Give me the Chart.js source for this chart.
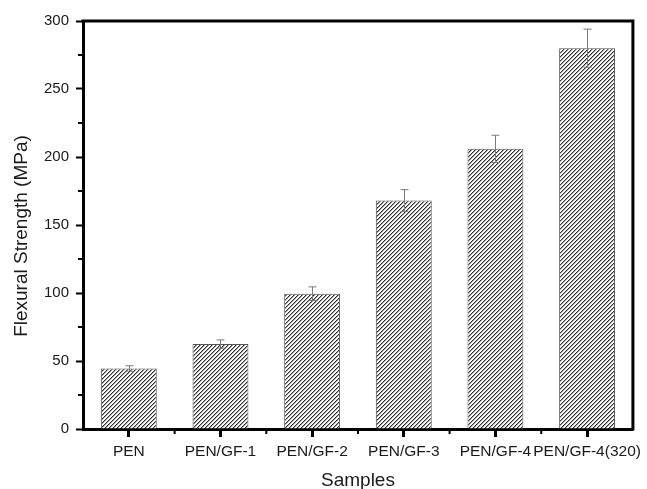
<!DOCTYPE html>
<html>
<head>
<meta charset="utf-8">
<script src="https://cdn.jsdelivr.net/npm/chart.js@4/dist/chart.umd.min.js"></script>
<style>
  html, body { margin: 0; padding: 0; background: #fff; }
  #wrap { width: 647px; height: 489px; position: relative; }
</style>
</head>
<body>
<div id="wrap"><canvas id="c" width="647" height="489"></canvas></div>
<script>
// Flexural strength of PEN and glass-fibre composites
const samples = ['PEN', 'PEN/GF-1', 'PEN/GF-2', 'PEN/GF-3', 'PEN/GF-4', 'PEN/GF-4(320)'];
const strength = [44.5, 62.5, 99.5, 168, 206, 280];
const strengthErr = [2, 3, 5, 8, 10, 14];
const yTicks = [0, 50, 100, 150, 200, 250, 300];
const yMinorTicks = [25, 75, 125, 175, 225, 275];
const yTitle = 'Flexural Strength (MPa)';
const xTitle = 'Samples';

const FONT = 'Liberation Sans, Arial, sans-serif';
const TEXT = '#1a1a1a';

// diagonal hatch fill
function makeHatch() {
  const s = 4;
  const t = document.createElement('canvas');
  t.width = s; t.height = s;
  const g = t.getContext('2d');
  const img = g.createImageData(s, s);
  for (let y = 0; y < s; y++) {
    for (let x = 0; x < s; x++) {
      const k = (x + y) % s;
      let v = 255;
      if (k === 0) v = 45;
      else if (k === 1) v = 160;
      const i = (y * s + x) * 4;
      img.data[i] = v; img.data[i + 1] = v; img.data[i + 2] = v; img.data[i + 3] = 255;
    }
  }
  g.putImageData(img, 0, 0);
  return g.createPattern(t, 'repeat');
}

const framePlugin = {
  id: 'frame',
  afterDatasetsDraw(chart) {
    const ctx = chart.ctx;
    const y = chart.scales.y;
    const meta = chart.getDatasetMeta(0);
    // error bars
    ctx.save();
    ctx.strokeStyle = '#7a7a7a';
    ctx.lineWidth = 1;
    meta.data.forEach((bar, i) => {
      const px = Math.round(bar.x) + 0.5;
      const yt = y.getPixelForValue(strength[i] + strengthErr[i]);
      const yb = y.getPixelForValue(strength[i] - strengthErr[i]);
      ctx.beginPath();
      ctx.moveTo(px, yt); ctx.lineTo(px, yb);
      ctx.moveTo(px - 4, yt); ctx.lineTo(px + 4, yt);
      ctx.moveTo(px - 4, yb); ctx.lineTo(px + 4, yb);
      ctx.stroke();
    });
    ctx.restore();
  },
  afterDraw(chart) {
    const ctx = chart.ctx;
    const a = chart.chartArea;
    const x = chart.scales.x, y = chart.scales.y;
    ctx.save();
    ctx.strokeStyle = '#000';
    ctx.lineWidth = 3;
    ctx.lineCap = 'square';
    ctx.beginPath();
    ctx.moveTo(a.left, a.top);
    ctx.lineTo(a.right, a.top);
    ctx.lineTo(a.right, a.bottom);
    ctx.stroke();
    // minor ticks
    ctx.lineWidth = 2;
    ctx.lineCap = 'butt';
    ctx.beginPath();
    yMinorTicks.forEach(v => {
      const py = y.getPixelForValue(v);
      ctx.moveTo(a.left, py); ctx.lineTo(a.left - 5, py);
    });
    for (let i = 0; i < samples.length - 1; i++) {
      const px = x.getPixelForValue(i + 0.5);
      ctx.moveTo(px, a.bottom); ctx.lineTo(px, a.bottom + 5);
    }
    ctx.stroke();
    // y-axis title
    ctx.fillStyle = TEXT;
    ctx.font = '19px ' + FONT;
    ctx.textAlign = 'center';
    ctx.textBaseline = 'middle';
    ctx.translate(22, 236);
    ctx.rotate(-Math.PI / 2);
    ctx.fillText(yTitle, 0, 0);
    ctx.restore();
  }
};

new Chart(document.getElementById('c'), {
  type: 'bar',
  data: {
    labels: samples,
    datasets: [{
      data: strength,
      backgroundColor: makeHatch(),
      borderColor: '#555',
      borderWidth: 1,
      categoryPercentage: 1.0,
      barPercentage: 0.61
    }]
  },
  options: {
    responsive: false,
    devicePixelRatio: 1,
    animation: false,
    events: [],
    layout: { padding: { top: 21, right: 13, left: 0, bottom: 0 } },
    plugins: { legend: { display: false }, tooltip: { enabled: false } },
    scales: {
      x: {
        offset: true,
        grid: { offset: false, drawOnChartArea: false, drawTicks: true, tickLength: 8, tickWidth: 3, tickColor: '#000' },
        border: { display: true, color: '#000', width: 3 },
        ticks: {
          color: TEXT, font: { family: FONT, size: 15.5 },
          maxRotation: 0, minRotation: 0, autoSkip: false, padding: 5
        },
        title: {
          display: true, text: xTitle, color: TEXT,
          font: { family: FONT, size: 19 },
          padding: { top: 0, bottom: -3 }
        },
        afterFit(s) { s.height = 60; }
      },
      y: {
        min: 0, max: 300,
        afterBuildTicks(s) { s.ticks = yTicks.map(v => ({ value: v })); },
        grid: { drawOnChartArea: false, drawTicks: true, tickLength: 7, tickWidth: 2, tickColor: '#000' },
        border: { display: true, color: '#000', width: 3 },
        ticks: {
          color: TEXT, font: { family: FONT, size: 15 },
          padding: 7
        },
        title: { display: false },
        afterFit(s) { s.width = 83; }
      }
    }
  },
  plugins: [framePlugin]
});
</script>
</body>
</html>
